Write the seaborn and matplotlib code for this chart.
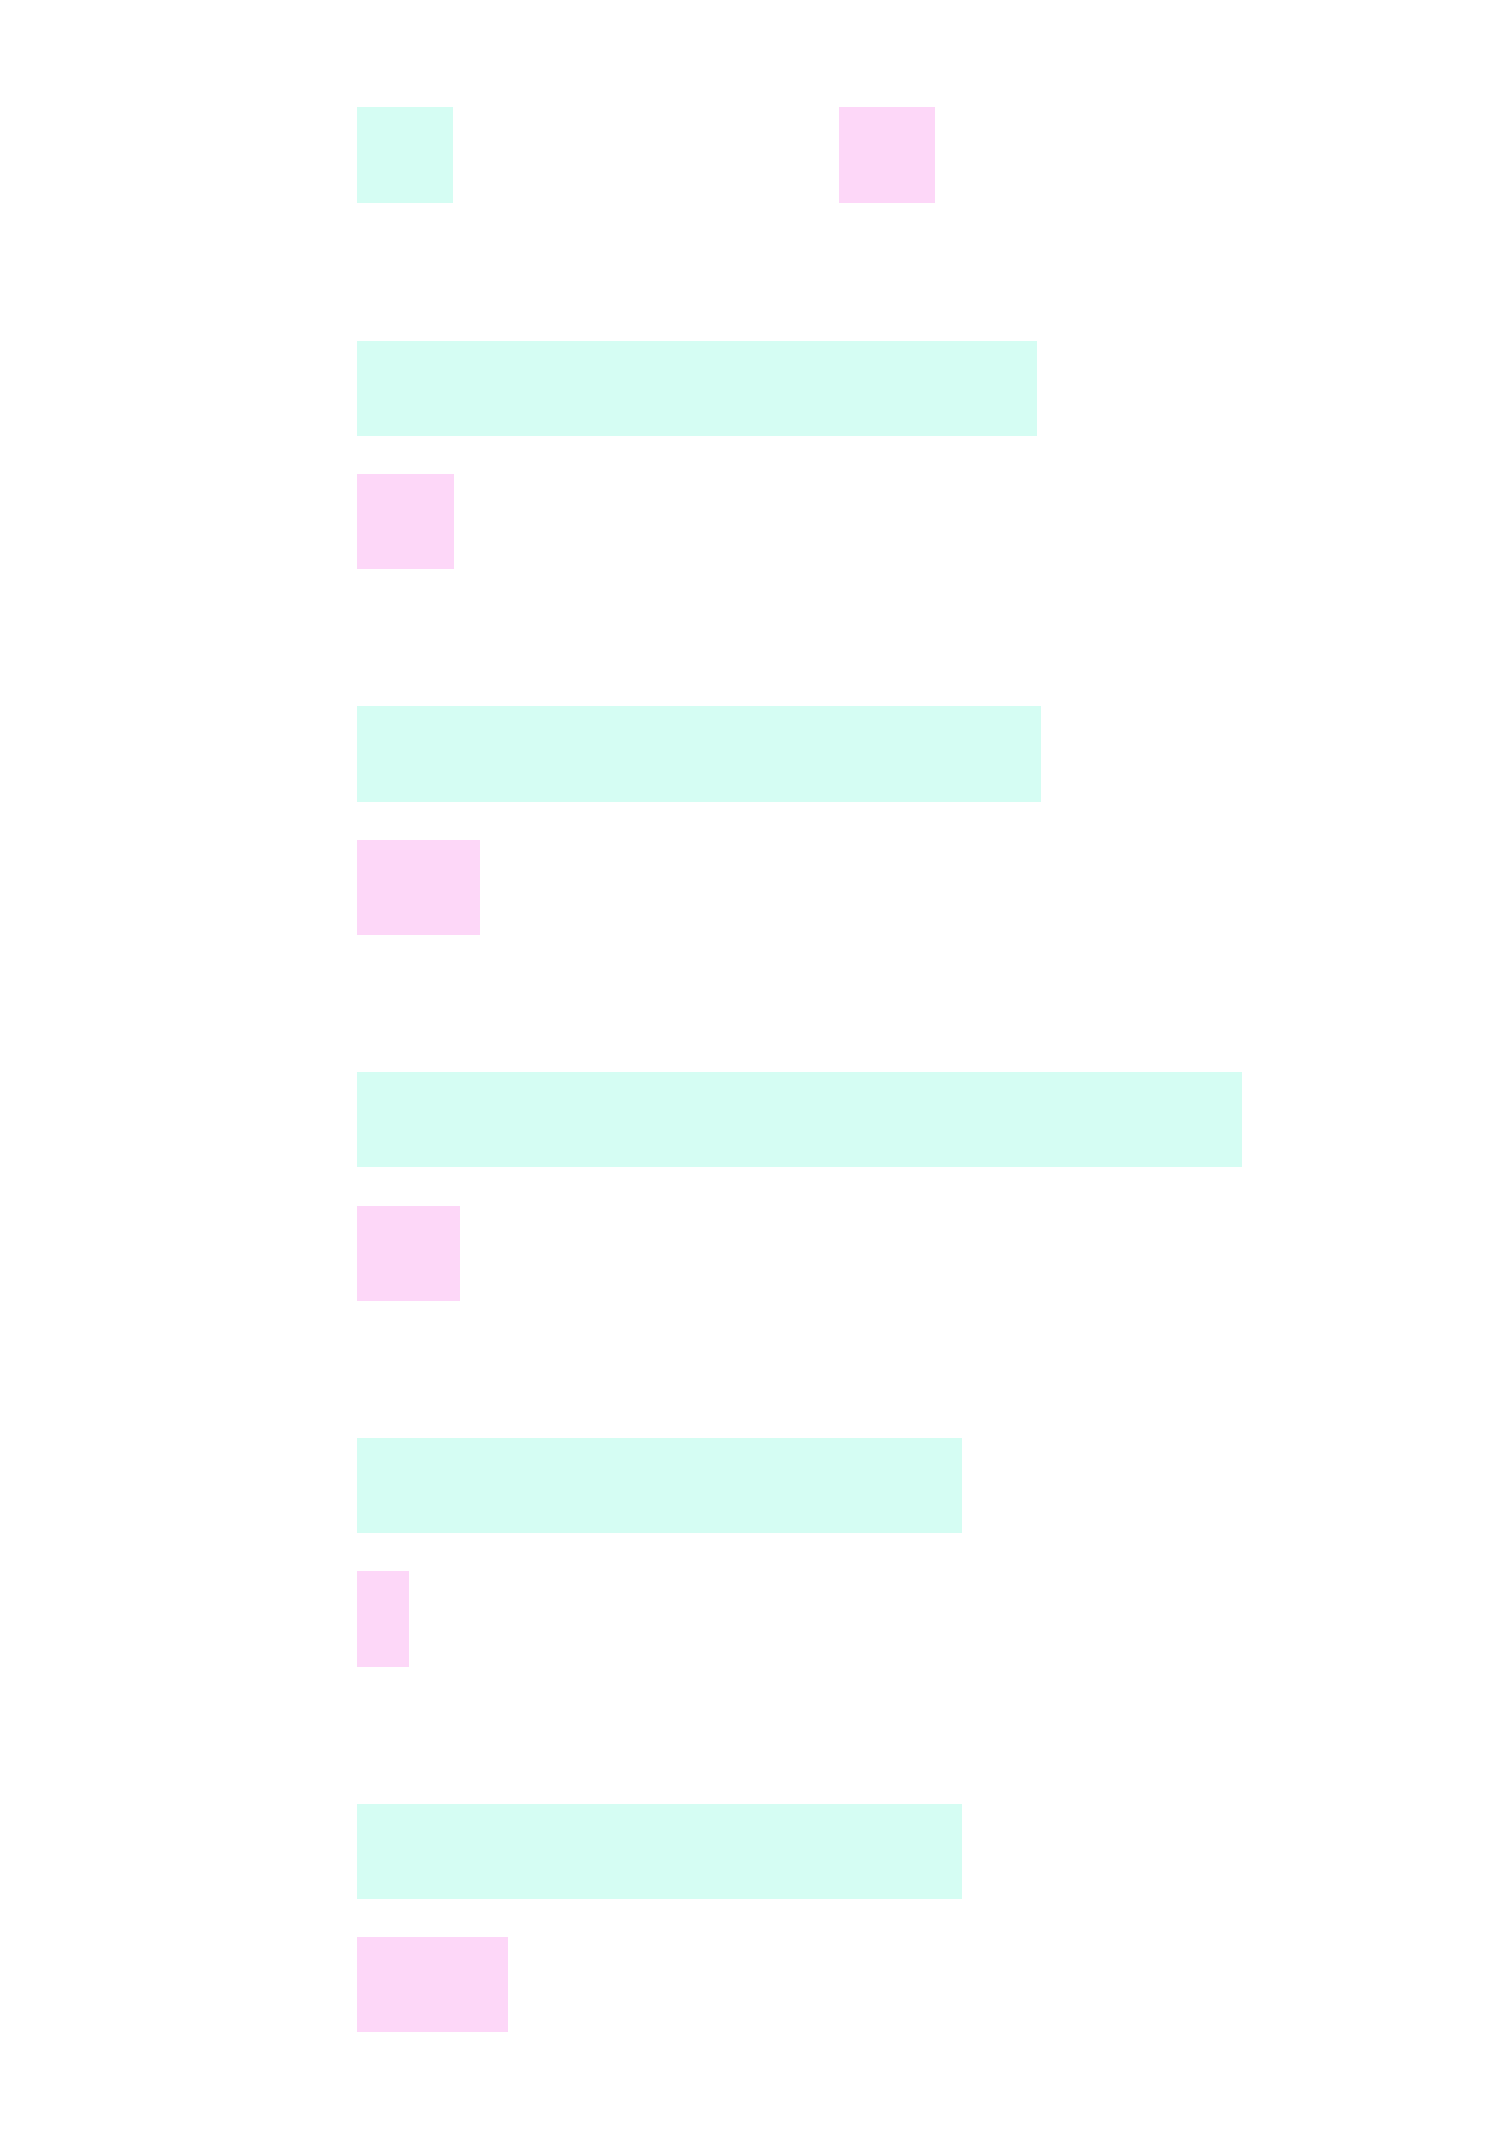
import matplotlib
matplotlib.use("Agg")
import matplotlib.pyplot as plt
import seaborn as sns
import pandas as pd
from matplotlib.patches import Patch

categories = ["G1", "G2", "G3", "G4", "G5"]
series_a = [71.0, 71.5, 92.5, 63.2, 63.2]
series_b = [10.1, 12.8, 10.8, 5.4, 15.8]
series_names = ["A", "B"]
colors = ["#D5FDF3", "#FDD7F8"]

df = pd.DataFrame({
    "category": categories * 2,
    "value": series_a + series_b,
    "series": [series_names[0]] * len(categories) + [series_names[1]] * len(categories),
})

sns.set_theme(style="white")
fig = plt.figure(figsize=(15, 21.44), dpi=100)
fig.patch.set_facecolor("white")
ax = fig.add_axes([357 / 1500, 43 / 2144, 1053 / 1500, 1829 / 2144])

sns.barplot(data=df, x="value", y="category", hue="series", orient="h",
            palette=colors, saturation=1, width=0.729, gap=0.286,
            linewidth=0, ax=ax, legend=False, order=categories,
            hue_order=series_names)

ax.set_xlim(0, 110)
ax.set_ylim(len(categories) - 0.5, -0.5)
ax.axis("off")

handles = [Patch(facecolor=c, edgecolor="none") for c in colors]
fig.legend(handles, ["", ""], loc="upper left",
           bbox_to_anchor=(357 / 1500, 1 - 107 / 2144),
           ncol=2, frameon=False, fontsize=10, borderpad=0, borderaxespad=0,
           handlelength=6.9, handleheight=10.24, handletextpad=0.8,
           columnspacing=27.0)

fig.savefig("out.png", dpi=100, facecolor="white")
